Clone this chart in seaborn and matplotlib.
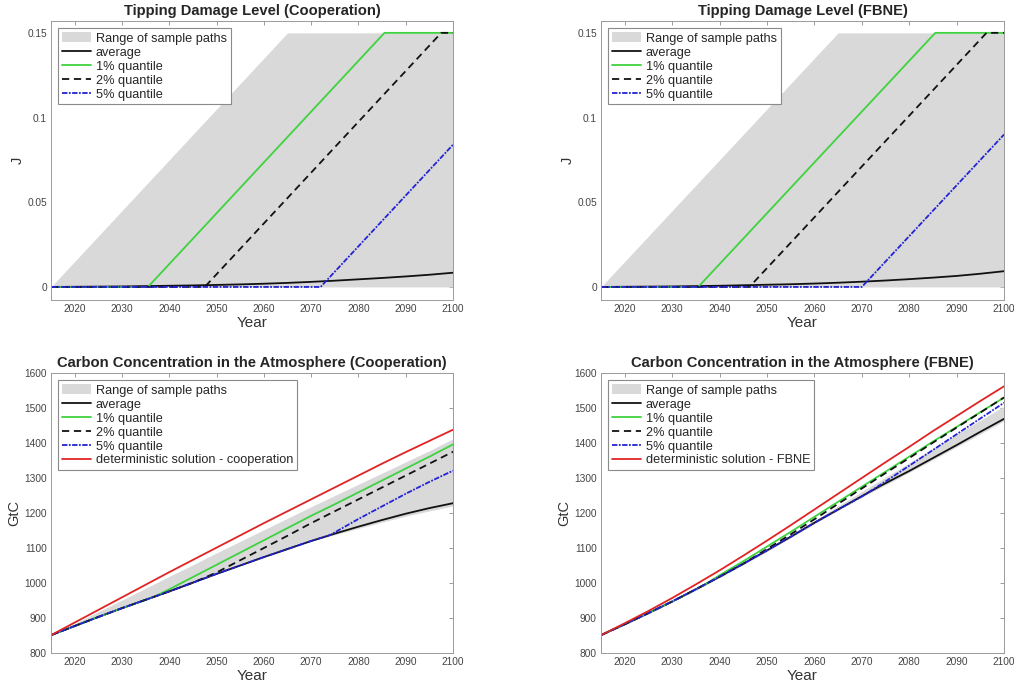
import numpy as np
import pandas as pd
import matplotlib
matplotlib.use("Agg")
import matplotlib.pyplot as plt
import seaborn as sns
from matplotlib.patches import Patch
from matplotlib.lines import Line2D

# ---------------- Tipping damage level J (Cooperation) ----------------
coop_j_range_years = [2015, 2065, 2100]
coop_j_range_hi = [0.0, 0.15, 0.15]
coop_j_avg_years = [2015, 2020, 2025, 2030, 2035, 2040, 2045, 2050, 2055,
                    2060, 2065, 2070, 2075, 2080, 2085, 2090, 2095, 2100]
coop_j_avg = [0.0, 0.0001, 0.0002, 0.0003, 0.0005, 0.0007, 0.0009, 0.0012,
              0.0015, 0.0019, 0.0024, 0.0030, 0.0037, 0.0045, 0.0053,
              0.0062, 0.0072, 0.0084]
coop_j_q1_years = [2015, 2035.5, 2085.5, 2100]
coop_j_q1 = [0.0, 0.0, 0.15, 0.15]
coop_j_q2_years = [2015, 2047.5, 2097.5, 2100]
coop_j_q2 = [0.0, 0.0, 0.15, 0.15]
coop_j_q5_years = [2015, 2072, 2100]
coop_j_q5 = [0.0, 0.0, 0.084]

# ---------------- Tipping damage level J (FBNE) ----------------
fbne_j_range_years = [2015, 2065, 2100]
fbne_j_range_hi = [0.0, 0.15, 0.15]
fbne_j_avg_years = coop_j_avg_years
fbne_j_avg = [0.0, 0.0001, 0.0002, 0.0003, 0.0005, 0.0007, 0.0010, 0.0013,
              0.0016, 0.0020, 0.0025, 0.0031, 0.0038, 0.0046, 0.0055,
              0.0065, 0.0078, 0.0093]
fbne_j_q1_years = [2015, 2035.5, 2085.5, 2100]
fbne_j_q1 = [0.0, 0.0, 0.15, 0.15]
fbne_j_q2_years = [2015, 2046.3, 2096.3, 2100]
fbne_j_q2 = [0.0, 0.0, 0.15, 0.15]
fbne_j_q5_years = [2015, 2070, 2100]
fbne_j_q5 = [0.0, 0.0, 0.09]

# ---------------- Carbon concentration (Cooperation) ----------------
years5 = [2015, 2020, 2025, 2030, 2035, 2040, 2045, 2050, 2055,
          2060, 2065, 2070, 2075, 2080, 2085, 2090, 2095, 2100]
coop_c_det = [851, 887, 923, 959, 995, 1031, 1066, 1101, 1136,
              1171, 1205, 1239, 1273, 1307, 1341, 1374, 1406, 1438]
coop_c_range_hi = [851, 884, 918, 951, 985, 1019, 1052, 1086, 1119,
                   1152, 1185, 1218, 1250, 1282, 1314, 1346, 1378, 1412]
coop_c_range_lo = [851, 877, 903, 928, 952, 976, 1001, 1026, 1050,
                   1074, 1097, 1120, 1138, 1156, 1174, 1191, 1206, 1220]
coop_c_avg = [851, 877, 903, 928, 952, 976, 1001, 1026, 1050,
              1074, 1097, 1120, 1141, 1161, 1180, 1198, 1214, 1228]
coop_c_q1_years = [2015, 2020, 2025, 2030, 2035, 2037, 2040, 2045, 2050, 2055,
                   2060, 2065, 2070, 2075, 2080, 2085, 2090, 2095, 2100]
coop_c_q1 = [851, 877, 903, 928, 952, 962, 982, 1017, 1052, 1087,
             1122, 1157, 1192, 1225, 1259, 1293, 1327, 1361, 1396]
coop_c_q2_years = [2015, 2020, 2025, 2030, 2035, 2040, 2045, 2050, 2055,
                   2060, 2065, 2070, 2075, 2080, 2085, 2090, 2095, 2100]
coop_c_q2 = [851, 877, 903, 928, 952, 976, 1001, 1030, 1065,
             1100, 1135, 1171, 1205, 1239, 1273, 1307, 1341, 1375]
coop_c_q5_years = [2015, 2020, 2025, 2030, 2035, 2040, 2045, 2050, 2055,
                   2060, 2065, 2070, 2074, 2080, 2085, 2090, 2095, 2100]
coop_c_q5 = [851, 877, 903, 928, 952, 976, 1001, 1026, 1050,
             1074, 1097, 1120, 1137, 1183, 1219, 1255, 1289, 1321]

# ---------------- Carbon concentration (FBNE) ----------------
fbne_c_det = [851, 885, 920, 957, 996, 1036, 1078, 1121, 1165,
              1210, 1255, 1300, 1345, 1389, 1434, 1477, 1520, 1562]
fbne_c_range_hi = [851, 881, 913, 946, 981, 1019, 1058, 1098, 1138,
                   1179, 1220, 1261, 1302, 1343, 1384, 1425, 1465, 1505]
fbne_c_range_lo = [851, 881, 912, 945, 979, 1015, 1052, 1090, 1129,
                   1169, 1207, 1245, 1280, 1316, 1352, 1389, 1426, 1463]
fbne_c_avg_years = [2015, 2020, 2025, 2030, 2035, 2040, 2045, 2050, 2055,
                    2060, 2065, 2070, 2074, 2080, 2085, 2090, 2095, 2100]
fbne_c_avg = [851, 882, 914, 947, 982, 1018, 1055, 1093, 1132,
              1172, 1210, 1248, 1278, 1320, 1357, 1394, 1432, 1469]
fbne_c_q1_years = [2015, 2020, 2025, 2030, 2035, 2037, 2040, 2045, 2050, 2055,
                   2060, 2065, 2070, 2075, 2080, 2085, 2090, 2095, 2100]
fbne_c_q1 = [851, 882, 914, 947, 982, 996, 1022, 1062, 1104, 1146,
             1189, 1232, 1275, 1318, 1361, 1404, 1446, 1488, 1530]
fbne_c_q2_years = years5
fbne_c_q2 = [851, 882, 914, 947, 982, 1018, 1055, 1097, 1139,
             1182, 1226, 1270, 1314, 1357, 1401, 1444, 1487, 1530]
fbne_c_q5_years = years5
fbne_c_q5 = [851, 882, 914, 947, 982, 1018, 1055, 1093, 1132,
             1172, 1210, 1247, 1290, 1335, 1380, 1425, 1470, 1515]

# ---------------- Style ----------------
sns.set_theme(style="white")
plt.rcParams["font.family"] = ["Liberation Sans", "DejaVu Sans"]
plt.rcParams.update({
    "xtick.direction": "in", "ytick.direction": "in",
    "xtick.top": True, "ytick.right": True,
    "xtick.major.size": 3, "ytick.major.size": 3,
    "xtick.major.width": 0.6, "ytick.major.width": 0.6,
    "xtick.color": "#8a8a8a", "ytick.color": "#8a8a8a",
    "xtick.labelcolor": "#444444", "ytick.labelcolor": "#444444",
})

GRAY_FILL = "#d9d9d9"
C_AVG = "#111111"
C_Q1 = "#3fd23f"
C_Q2 = "#111111"
C_Q5 = "#2323d6"
C_DET = "#e02424"
LW = 1.3
DASH_Q2 = (0, (4, 2.6))
DASH_Q5 = (0, (3, 0.8, 1, 0.8))

fig = plt.figure(figsize=(10.14, 6.86), dpi=100)
ax_tl = fig.add_axes([0.0503, 0.5627, 0.3965, 0.4067])
ax_tr = fig.add_axes([0.5927, 0.5627, 0.3975, 0.4067])
ax_bl = fig.add_axes([0.0503, 0.0481, 0.3965, 0.4082])
ax_br = fig.add_axes([0.5927, 0.0481, 0.3975, 0.4082])


def line(ax, x, y, color, ls="-"):
    df = pd.DataFrame({"Year": x, "v": y})
    sns.lineplot(data=df, x="Year", y="v", ax=ax, color=color, lw=LW,
                 linestyle=ls, legend=False, estimator=None, sort=False)


def style_axes(ax, title, ylabel, ylim, yticks, yticklabels):
    ax.set_xlim(2015, 2100)
    ax.set_ylim(*ylim)
    ax.set_xticks(range(2020, 2101, 10))
    ax.set_yticks(yticks)
    ax.set_yticklabels(yticklabels)
    ax.tick_params(labelsize=7.3, pad=3)
    ax.set_title(title, fontsize=10.6, fontweight="bold", pad=4)
    ax.set_xlabel("Year", fontsize=11, labelpad=1, color="#333333")
    ax.set_ylabel(ylabel, fontsize=10.5, labelpad=2, color="#333333")
    for s in ax.spines.values():
        s.set_color("#9a9a9a")
        s.set_linewidth(0.7)


def add_legend(ax, det_label=None):
    handles = [Patch(facecolor=GRAY_FILL, edgecolor="none"),
               Line2D([], [], color=C_AVG, lw=LW),
               Line2D([], [], color=C_Q1, lw=LW),
               Line2D([], [], color=C_Q2, lw=LW, ls=DASH_Q2),
               Line2D([], [], color=C_Q5, lw=LW, ls=DASH_Q5)]
    labels = ["Range of sample paths", "average", "1% quantile",
              "2% quantile", "5% quantile"]
    if det_label:
        handles.append(Line2D([], [], color=C_DET, lw=LW))
        labels.append(det_label)
    leg = ax.legend(handles, labels, loc="upper left", fontsize=9.2,
                    frameon=True, fancybox=False, framealpha=1,
                    edgecolor="#8a8a8a", handlelength=2.3, handleheight=0.9,
                    handletextpad=0.35, borderpad=0.3, labelspacing=0.1,
                    borderaxespad=0.55)
    leg.get_frame().set_linewidth(0.8)


# Tipping damage panels
for ax, ry, rhi, ay, av, q1y, q1, q2y, q2, q5y, q5, name in [
    (ax_tl, coop_j_range_years, coop_j_range_hi, coop_j_avg_years, coop_j_avg,
     coop_j_q1_years, coop_j_q1, coop_j_q2_years, coop_j_q2,
     coop_j_q5_years, coop_j_q5, "Cooperation"),
    (ax_tr, fbne_j_range_years, fbne_j_range_hi, fbne_j_avg_years, fbne_j_avg,
     fbne_j_q1_years, fbne_j_q1, fbne_j_q2_years, fbne_j_q2,
     fbne_j_q5_years, fbne_j_q5, "FBNE"),
]:
    ax.fill_between(ry, [0] * len(ry), rhi, color=GRAY_FILL, lw=0)
    line(ax, ay, av, C_AVG)
    line(ax, q1y, q1, C_Q1)
    line(ax, q2y, q2, C_Q2, DASH_Q2)
    line(ax, q5y, q5, C_Q5, DASH_Q5)
    style_axes(ax, f"Tipping Damage Level ({name})", "J",
               (-0.0077, 0.157), [0, 0.05, 0.1, 0.15],
               ["0", "0.05", "0.1", "0.15"])
    add_legend(ax)

# Carbon concentration panels
for ax, lo, hi, ay, av, q1y, q1, q2y, q2, q5y, q5, det, name, det_label in [
    (ax_bl, coop_c_range_lo, coop_c_range_hi, years5, coop_c_avg,
     coop_c_q1_years, coop_c_q1, coop_c_q2_years, coop_c_q2,
     coop_c_q5_years, coop_c_q5, coop_c_det, "Cooperation",
     "deterministic solution - cooperation"),
    (ax_br, fbne_c_range_lo, fbne_c_range_hi, fbne_c_avg_years, fbne_c_avg,
     fbne_c_q1_years, fbne_c_q1, fbne_c_q2_years, fbne_c_q2,
     fbne_c_q5_years, fbne_c_q5, fbne_c_det, "FBNE",
     "deterministic solution - FBNE"),
]:
    ax.fill_between(years5, lo, hi, color=GRAY_FILL, lw=0)
    line(ax, ay, av, C_AVG)
    line(ax, q1y, q1, C_Q1)
    line(ax, q2y, q2, C_Q2, DASH_Q2)
    line(ax, q5y, q5, C_Q5, DASH_Q5)
    line(ax, years5, det, C_DET)
    style_axes(ax, f"Carbon Concentration in the Atmosphere ({name})", "GtC",
               (800, 1600), list(range(800, 1601, 100)),
               [str(v) for v in range(800, 1601, 100)])
    add_legend(ax, det_label)

fig.savefig("out.png", dpi=100)
